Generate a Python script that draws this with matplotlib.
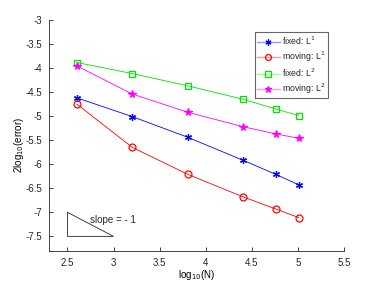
import numpy as np
import matplotlib
matplotlib.use('Agg')
import matplotlib.pyplot as plt
from matplotlib.lines import Line2D

# log10 of grid sizes
logN = [2.602, 3.204, 3.806, 4.408, 4.760, 5.010]

fixed_L1 = [-4.62, -5.01, -5.44, -5.92, -6.21, -6.43]
moving_L1 = [-4.75, -5.65, -6.21, -6.68, -6.93, -7.11]
fixed_L2 = [-3.885, -4.115, -4.37, -4.65, -4.85, -4.99]
moving_L2 = [-3.955, -4.54, -4.92, -5.22, -5.37, -5.46]

labels = ['fixed: L$^1$', 'moving: L$^1$', 'fixed: L$^2$', 'moving: L$^2$']

# slope reference triangle
tri_x = [2.5, 2.5, 3.0, 2.5]
tri_y = [-7.0, -7.5, -7.5, -7.0]

plt.rcParams['font.family'] = ['Liberation Sans', 'DejaVu Sans']
plt.rcParams['font.size'] = 7
plt.rcParams['text.color'] = '#262626'

fig = plt.figure(figsize=(3.8, 2.85), dpi=100)
ax = fig.add_axes([0.129, 0.12, 0.776, 0.81])

asterisk = (6, 2, 0)
styles = [
    dict(marker=asterisk, color='#0000ff', light='#9999ff', ms=5, mfc='#0000ff'),
    dict(marker='o', color='#ff0000', light='#ff9999', ms=5, mfc='none'),
    dict(marker='s', color='#00e600', light='#99ff99', ms=4.5, mfc='none'),
    dict(marker='*', color='#ff00ff', light='#ff99ff', ms=5.5, mfc='#ff00ff'),
]
series = [fixed_L1, moving_L1, fixed_L2, moving_L2]

handles = []
for y, st in zip(series, styles):
    ax.plot(logN, y, '-', marker=st['marker'], color=st['color'], lw=0.6,
            ms=st['ms'], mew=0.9, mfc=st['mfc'])
    handles.append(Line2D([], [], color=st['light'], lw=1.0, marker=st['marker'],
                          ms=st['ms'] * 0.85, mew=0.9, mec=st['color'], mfc=st['mfc']))

ax.plot(tri_x, tri_y, color='#262626', lw=0.6)
ax.text(2.75, -7.16, 'slope = - 1', fontsize=7, va='center')

ax.set_xlim(2.3, 5.5)
ax.set_ylim(-7.8, -3)
ax.set_xticks(np.arange(2.5, 5.51, 0.5))
ax.set_xticklabels(['2.5', '3', '3.5', '4', '4.5', '5', '5.5'])
ax.set_yticks(np.arange(-7.5, -2.99, 0.5))
ax.set_yticklabels(['-7.5', '-7', '-6.5', '-6', '-5.5', '-5', '-4.5', '-4', '-3.5', '-3'])
ax.tick_params(direction='in', length=3, width=0.6, colors='#262626', labelsize=7, pad=5)
ax.spines['top'].set_visible(False)
ax.spines['right'].set_visible(False)
for s in ['left', 'bottom']:
    ax.spines[s].set_color('#262626')
    ax.spines[s].set_linewidth(0.6)

ax.set_xlabel('log$_{10}$(N)', fontsize=7, labelpad=0)
ax.set_ylabel('2log$_{10}$(error)', fontsize=7)
ax.yaxis.set_label_coords(-0.078, 0.46)

leg = ax.legend(handles, labels, loc='upper right', bbox_to_anchor=(0.96, 0.965), fontsize=6.3,
                fancybox=False, framealpha=1, edgecolor='#666666',
                handlelength=2.6, borderpad=0.25, labelspacing=0.3, handletextpad=0.3)
leg.get_frame().set_linewidth(0.8)

fig.savefig('out.png', dpi=100)
